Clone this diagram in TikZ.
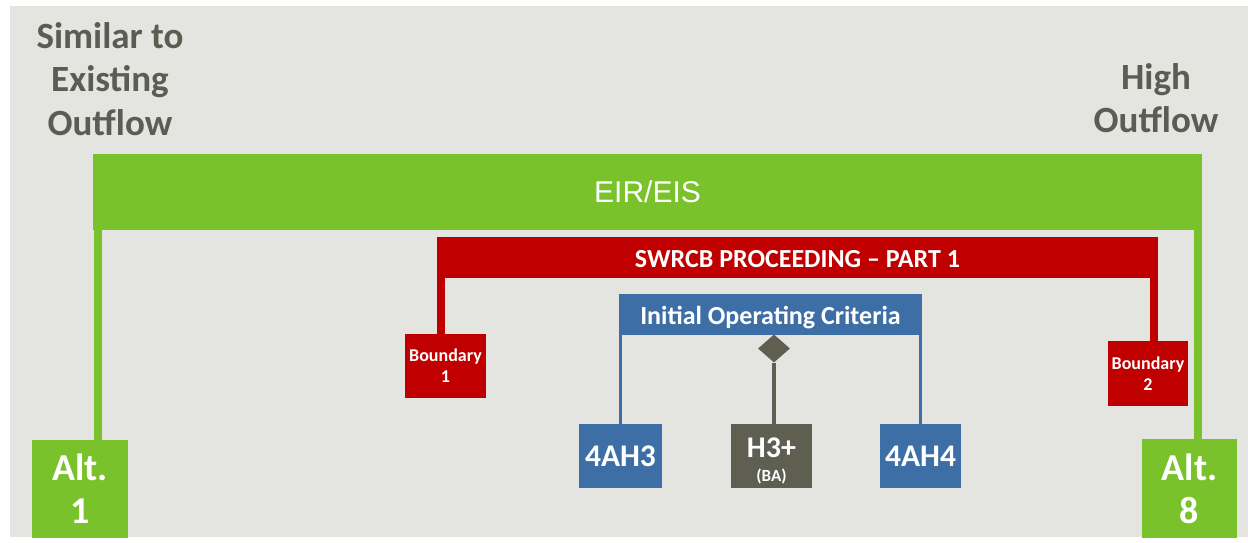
\documentclass[tikz,border=0pt]{standalone}
\usepackage{fontspec}
\setmainfont{Carlito}
\newfontfamily\arialf{Liberation Sans}
\usetikzlibrary{shapes.geometric}
\definecolor{bgc}{HTML}{E4E4E0}
\definecolor{grn}{HTML}{79C22B}
\definecolor{rd}{HTML}{C00000}
\definecolor{bl}{HTML}{3D6FA6}
\definecolor{dg}{HTML}{5E5F50}
\definecolor{tg}{HTML}{5A5D52}
\tikzset{
  box/.style={rectangle, inner sep=0pt, text=white, align=center, font=\bfseries},
  gbox/.style={box, fill=grn},
  rbox/.style={box, fill=rd},
  bbox/.style={box, fill=bl},
  dbox/.style={box, fill=dg},
  gline/.style={draw=grn, line width=8pt},
  rline/.style={draw=rd, line width=8.5pt},
  bline/.style={draw=bl, line width=3.5pt},
  dline/.style={draw=dg, line width=4pt},
  label/.style={text=tg, align=center, font=\fontsize{37}{43.5}\selectfont\bfseries},
}
\begin{document}
\begin{tikzpicture}[x=1pt,y=-1pt]
\useasboundingbox (0,0) rectangle (1248,543);
\fill[white] (0,0) rectangle (1248,543);
\fill[bgc] (10,6) rectangle (1248,537);
% labels
\node[label] (lab1) at (110,79) {Similar to\\Existing\\Outflow};
\node[label] (lab2) at (1156,98) {High\\Outflow};
% bars
\node[gbox, minimum width=1109pt, minimum height=76pt, font=\arialf\fontsize{30}{36}\selectfont] (eir) at (647.5,192) {EIR/EIS};
\node[rbox, minimum width=721pt, minimum height=41pt, font=\fontsize{26}{30}\selectfont\bfseries] (swrcb) at (797.5,257.5) {\rule{0pt}{21pt}SWRCB PROCEEDING -- PART 1};
\node[bbox, minimum width=303pt, minimum height=41pt, font=\fontsize{26}{30}\selectfont\bfseries] (ioc) at (770.5,314.5) {\rule{0pt}{25pt}Initial Operating Criteria};
% boxes
\node[gbox, minimum width=96pt, minimum height=98pt, font=\fontsize{38}{43}\selectfont\bfseries] (alt1) at (80,489) {Alt.\\1};
\node[gbox, minimum width=95pt, minimum height=99pt, font=\fontsize{38}{43}\selectfont\bfseries] (alt8) at (1189.5,488.5) {Alt.\\8};
\node[rbox, minimum width=81pt, minimum height=64pt, font=\fontsize{18}{21}\selectfont\bfseries] (b1) at (445.5,366) {Boundary\\1};
\node[rbox, minimum width=80pt, minimum height=65pt, font=\fontsize{18}{21}\selectfont\bfseries] (b2) at (1148,373.5) {Boundary\\2};
\node[bbox, minimum width=83pt, minimum height=64pt, font=\fontsize{31.5}{34}\selectfont\bfseries] (ah3) at (620.5,456) {4AH3};
\node[dbox, minimum width=81pt, minimum height=64pt, font=\fontsize{30}{24}\selectfont\bfseries] (h3) at (771.5,456) {\rule{0pt}{29.5pt}H3+\\{\fontsize{17}{24}\selectfont (BA)}};
\node[bbox, minimum width=81pt, minimum height=64pt, font=\fontsize{31.5}{34}\selectfont\bfseries] (ah4) at (920.5,456) {4AH4};
\node[diamond, fill=dg, inner sep=0pt, minimum width=32pt, minimum height=28pt] (dia) at (774,348.5) {};
% connectors
\draw[gline] ([xshift=5pt]eir.south west) -- ([xshift=5pt]eir.south west |- alt1.north);
\draw[gline] ([xshift=-4pt]eir.south east) -- ([xshift=-4pt]eir.south east |- alt8.north);
\draw[rline] ([xshift=4pt]swrcb.south west) -- ([xshift=4pt]swrcb.south west |- b1.north);
\draw[rline] ([xshift=-4pt]swrcb.south east) -- ([xshift=-4pt]swrcb.south east |- b2.north);
\draw[bline] (ah3.north |- ioc.south) -- (ah3.north);
\draw[bline] (ah4.north |- ioc.south) -- (ah4.north);
\draw[dline] (dia.south) -- (dia.south |- h3.north);
\end{tikzpicture}
\end{document}
